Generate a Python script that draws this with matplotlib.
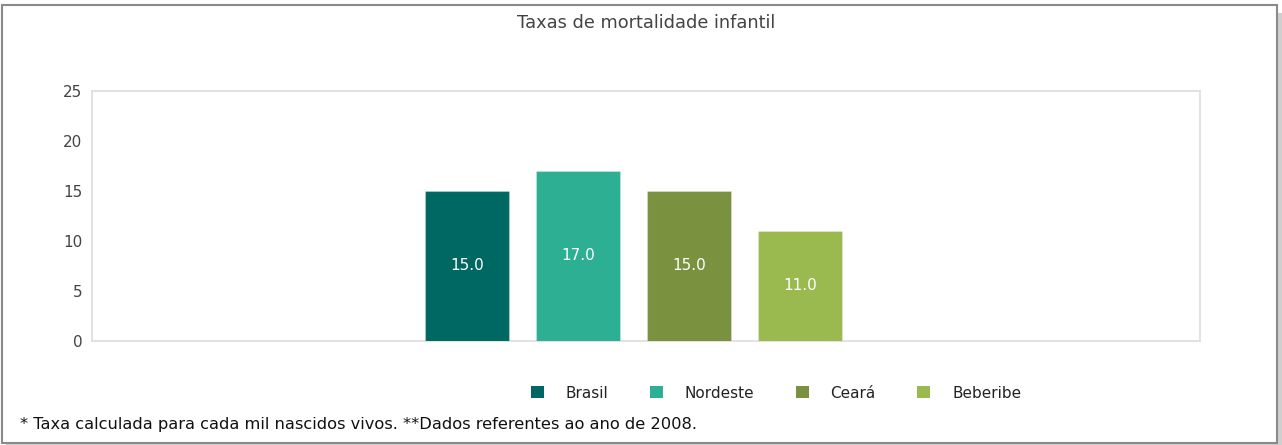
"""Taxas de mortalidade infantil - bar chart"""

import matplotlib.pyplot as plt
from matplotlib.patches import Patch, Rectangle

plt.rcParams["font.family"] = ["DejaVu Sans"]

# data
regions = ["Brasil", "Nordeste", "Ceará", "Beberibe"]
rates = [15.0, 17.0, 15.0, 11.0]
colors = ["#006863", "#2caf93", "#7a9140", "#9aba50"]
y_ticks = [0, 5, 10, 15, 20, 25]

W, H = 1282, 445
fig = plt.figure(figsize=(W / 100, H / 100), dpi=100)
fig.patch.set_facecolor("white")

# outer frame with small shadow on the right
shadow = Rectangle((6 / W, 0), 1276 / W, 432 / H, transform=fig.transFigure,
                   facecolor="#cfcfcf", edgecolor="none", zorder=0)
frame = Rectangle((2 / W, 2 / H), 1275 / W, 438 / H, transform=fig.transFigure,
                  facecolor="white", edgecolor="#8a8a8a", linewidth=1.5, zorder=1)
fig.patches.extend([shadow, frame])

ax = fig.add_axes([92 / W, (H - 341) / H, 1108 / W, 250 / H])
ax.set_zorder(2)

x = list(range(len(regions)))
bars = ax.bar(x, rates, width=0.757, color=colors,
              edgecolor="#ffffff40", linewidth=0.8, zorder=3)

for bar, val in zip(bars, rates):
    ax.text(bar.get_x() + bar.get_width() / 2, val / 2, f"{val:.1f}",
            ha="center", va="center", color="white", fontsize=11, zorder=4)

ax.set_xlim(-3.378, 6.604)
ax.set_ylim(0, 25)
ax.set_yticks(y_ticks)
ax.set_xticks([])
ax.tick_params(axis="y", length=0, pad=7, labelsize=11, labelcolor="#444444")
for spine in ax.spines.values():
    spine.set_color("#dddddd")
    spine.set_linewidth(1.2)

fig.text(646 / W, (H - 23) / H, "Taxas de mortalidade infantil",
         ha="center", va="center", fontsize=12.8, color="#444444")

handles = [Patch(facecolor=c, edgecolor="none") for c in colors]
fig.legend(handles, regions, loc="center", bbox_to_anchor=(776 / W, (H - 393) / H),
           ncol=4, frameon=False, fontsize=11, handlelength=0.85, handleheight=0.85,
           handletextpad=1.44, columnspacing=2.7, labelcolor="#222222")

fig.text(20 / W, (H - 424) / H,
         "* Taxa calculada para cada mil nascidos vivos. **Dados referentes ao ano de 2008.",
         ha="left", va="center", fontsize=11.7, color="#111111")

fig.savefig("out.png", dpi=100)
